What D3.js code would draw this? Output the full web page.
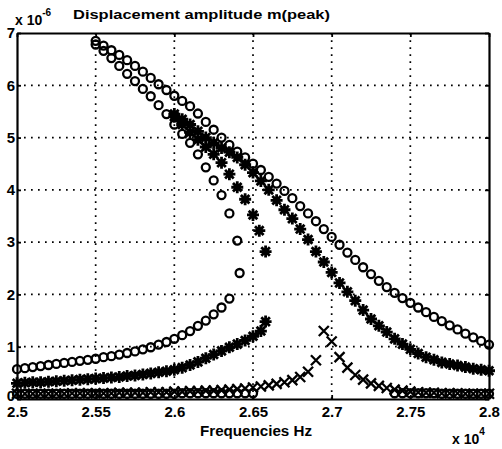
<!DOCTYPE html>
<html>
<head>
<meta charset="utf-8">
<script src="https://cdn.jsdelivr.net/npm/d3@7"></script>
<style>
  body { margin: 0; background: #fff; }
  text { font-family: "Liberation Sans", Arial, sans-serif; fill: #000; }
</style>
</head>
<body>
<svg id="chart" width="502" height="449"></svg>
<script>
// tick labels
const xTicks = [2.5, 2.55, 2.6, 2.65, 2.7, 2.75, 2.8];
const yTicks = [0, 1, 2, 3, 4, 5, 6, 7];

// circles - upper (stable) branch  [freq x1e4, amplitude x1e-6]
const circUpper = [
  [2.550, 6.85], [2.555, 6.76], [2.560, 6.67], [2.565, 6.58], [2.570, 6.48], [2.575, 6.37],
  [2.580, 6.26], [2.585, 6.14], [2.590, 6.02], [2.595, 5.91], [2.600, 5.80], [2.605, 5.70],
  [2.610, 5.60], [2.615, 5.46], [2.620, 5.30], [2.625, 5.15], [2.630, 5.00], [2.635, 4.86],
  [2.640, 4.73], [2.645, 4.62], [2.650, 4.50], [2.655, 4.38], [2.660, 4.25], [2.665, 4.12],
  [2.670, 3.98], [2.675, 3.84], [2.680, 3.69], [2.685, 3.55], [2.690, 3.40], [2.695, 3.25],
  [2.700, 3.10], [2.705, 2.95], [2.710, 2.80], [2.715, 2.66], [2.720, 2.52], [2.725, 2.39],
  [2.730, 2.26], [2.735, 2.14], [2.740, 2.03], [2.745, 1.93], [2.750, 1.84], [2.755, 1.75],
  [2.760, 1.66], [2.765, 1.57], [2.770, 1.49], [2.775, 1.41], [2.780, 1.33], [2.785, 1.25],
  [2.790, 1.18], [2.795, 1.11], [2.800, 1.04]
];
// circles - middle branch
const circMiddle = [
  [2.550, 6.78], [2.555, 6.66], [2.560, 6.52], [2.565, 6.37], [2.570, 6.22], [2.575, 6.08],
  [2.580, 5.93], [2.585, 5.79], [2.590, 5.62], [2.595, 5.45], [2.600, 5.25], [2.605, 5.07],
  [2.610, 4.90], [2.615, 4.68], [2.620, 4.43], [2.625, 4.18], [2.630, 3.90], [2.635, 3.55],
  [2.640, 3.03], [2.6415, 2.41]
];
// circles - lower branch
const circLower = [
  [2.500, 0.57], [2.505, 0.59], [2.510, 0.61], [2.515, 0.63], [2.520, 0.65], [2.525, 0.67],
  [2.530, 0.69], [2.535, 0.71], [2.540, 0.73], [2.545, 0.75], [2.550, 0.77], [2.555, 0.80],
  [2.560, 0.82], [2.565, 0.85], [2.570, 0.88], [2.575, 0.91], [2.580, 0.95], [2.585, 0.99],
  [2.590, 1.04], [2.595, 1.09], [2.600, 1.15], [2.605, 1.22], [2.610, 1.30], [2.615, 1.40],
  [2.620, 1.50], [2.625, 1.62], [2.630, 1.75], [2.635, 1.92]
];
// circles - bottom row
const circBottom = [
  [2.500, 0.10], [2.505, 0.10], [2.510, 0.10], [2.515, 0.10], [2.520, 0.10], [2.525, 0.10],
  [2.530, 0.10], [2.535, 0.10], [2.540, 0.10], [2.545, 0.10], [2.550, 0.10], [2.555, 0.10],
  [2.560, 0.10], [2.565, 0.10], [2.570, 0.10], [2.575, 0.10], [2.580, 0.10], [2.585, 0.10],
  [2.590, 0.10], [2.595, 0.10], [2.600, 0.10], [2.605, 0.11], [2.610, 0.11], [2.615, 0.11],
  [2.620, 0.11], [2.625, 0.11], [2.630, 0.11], [2.635, 0.11], [2.640, 0.11], [2.645, 0.11],
  [2.650, 0.11], [2.740, 0.11], [2.745, 0.11], [2.750, 0.11], [2.755, 0.11], [2.760, 0.11],
  [2.765, 0.11], [2.770, 0.10], [2.775, 0.10], [2.780, 0.10], [2.785, 0.10], [2.790, 0.10],
  [2.795, 0.10], [2.800, 0.10]
];

// stars - upper branch
const starUpper = [
  [2.600, 5.45], [2.605, 5.35], [2.610, 5.25], [2.615, 5.12], [2.620, 5.00], [2.625, 4.90],
  [2.630, 4.80], [2.635, 4.72], [2.640, 4.62], [2.645, 4.48], [2.650, 4.33], [2.655, 4.17],
  [2.660, 4.00], [2.665, 3.80], [2.670, 3.62], [2.675, 3.45], [2.680, 3.25], [2.685, 3.05],
  [2.690, 2.82], [2.695, 2.62], [2.700, 2.42], [2.705, 2.22], [2.710, 2.05], [2.715, 1.88],
  [2.720, 1.70], [2.725, 1.53], [2.730, 1.40], [2.735, 1.28], [2.740, 1.15], [2.745, 1.05],
  [2.750, 0.95], [2.755, 0.87], [2.760, 0.80], [2.765, 0.75], [2.770, 0.70], [2.775, 0.67],
  [2.780, 0.64], [2.785, 0.61], [2.790, 0.58], [2.795, 0.56], [2.800, 0.54]
];
// stars - middle branch
const starMiddle = [
  [2.600, 5.40], [2.605, 5.25], [2.610, 5.10], [2.615, 4.96], [2.620, 4.82], [2.625, 4.68],
  [2.630, 4.52], [2.635, 4.30], [2.640, 4.05], [2.645, 3.82], [2.650, 3.52], [2.654, 3.22],
  [2.658, 2.82]
];
// stars - lower branch
const starLower = [
  [2.500, 0.30], [2.505, 0.31], [2.510, 0.32], [2.515, 0.32], [2.520, 0.33], [2.525, 0.34],
  [2.530, 0.35], [2.535, 0.36], [2.540, 0.37], [2.545, 0.38], [2.550, 0.39], [2.555, 0.40],
  [2.560, 0.41], [2.565, 0.42], [2.570, 0.44], [2.575, 0.45], [2.580, 0.47], [2.585, 0.49],
  [2.590, 0.51], [2.595, 0.53], [2.600, 0.56], [2.605, 0.60], [2.610, 0.65], [2.615, 0.71],
  [2.620, 0.78], [2.625, 0.85], [2.630, 0.92], [2.635, 0.99], [2.640, 1.05], [2.645, 1.12],
  [2.650, 1.20], [2.655, 1.30], [2.658, 1.48]
];

// crosses - lower branch
const crossLower = [
  [2.500, 0.10], [2.505, 0.10], [2.510, 0.10], [2.515, 0.10], [2.520, 0.10], [2.525, 0.10],
  [2.530, 0.10], [2.535, 0.11], [2.540, 0.11], [2.545, 0.11], [2.550, 0.11], [2.555, 0.11],
  [2.560, 0.11], [2.565, 0.12], [2.570, 0.12], [2.575, 0.12], [2.580, 0.12], [2.585, 0.13],
  [2.590, 0.13], [2.595, 0.13], [2.600, 0.14], [2.605, 0.14], [2.610, 0.15], [2.615, 0.15],
  [2.620, 0.16], [2.625, 0.16], [2.630, 0.17], [2.635, 0.18], [2.640, 0.19], [2.645, 0.20],
  [2.650, 0.22], [2.655, 0.24], [2.660, 0.26], [2.665, 0.29], [2.670, 0.32], [2.675, 0.36],
  [2.680, 0.42], [2.685, 0.52], [2.690, 0.74], [2.695, 1.30]
];
// crosses - upper branch
const crossUpper = [
  [2.700, 1.10], [2.705, 0.80], [2.710, 0.60], [2.715, 0.46], [2.720, 0.37], [2.725, 0.30],
  [2.730, 0.25], [2.735, 0.21], [2.740, 0.18], [2.745, 0.16], [2.750, 0.14], [2.755, 0.13],
  [2.760, 0.12], [2.765, 0.12], [2.770, 0.11], [2.775, 0.11], [2.780, 0.11], [2.785, 0.10],
  [2.790, 0.10], [2.795, 0.10], [2.800, 0.10]
];

const svg = d3.select("#chart");
const margin = {left: 17, right: 13, top: 33, bottom: 50};
const W = 502, H = 449;

const x = d3.scaleLinear().domain([2.5, 2.8]).range([margin.left, W - margin.right]);
const y = d3.scaleLinear().domain([0, 7]).range([H - margin.bottom, margin.top]);

// dotted grid
const grid = svg.append("g").attr("stroke", "#000").attr("stroke-width", 1.7)
  .attr("stroke-dasharray", "1.7,5.3");
grid.selectAll(".gx").data(xTicks.slice(1, -1)).enter().append("line")
  .attr("x1", d => x(d)).attr("x2", d => x(d))
  .attr("y1", y(0)).attr("y2", y(7));
grid.selectAll(".gy").data(yTicks.slice(1, -1)).enter().append("line")
  .attr("x1", x(2.5)).attr("x2", x(2.8))
  .attr("y1", d => y(d)).attr("y2", d => y(d));

// axes (ticks inside)
const fmt = d => String(d);
const axB = svg.append("g").attr("transform", `translate(0,${y(0)})`)
  .call(d3.axisBottom(x).tickValues(xTicks).tickFormat(fmt).tickSizeInner(-4).tickSizeOuter(0).tickPadding(7));
const axL = svg.append("g").attr("transform", `translate(${x(2.5)},0)`)
  .call(d3.axisLeft(y).tickValues(yTicks).tickFormat(fmt).tickSizeInner(-4).tickSizeOuter(0).tickPadding(4));
const axT = svg.append("g").attr("transform", `translate(0,${y(7)})`)
  .call(d3.axisTop(x).tickValues(xTicks).tickFormat("").tickSizeInner(-4).tickSizeOuter(0));
const axR = svg.append("g").attr("transform", `translate(${x(2.8)},0)`)
  .call(d3.axisRight(y).tickValues(yTicks).tickFormat("").tickSizeInner(-4).tickSizeOuter(0));

[axB, axL, axT, axR].forEach(a => {
  a.select(".domain").attr("stroke", "#000").attr("stroke-width", 2.2);
  a.selectAll(".tick line").attr("stroke", "#000").attr("stroke-width", 1.8);
  a.selectAll("text").attr("font-size", 15).attr("font-weight", "bold")
    .attr("font-family", "Liberation Sans, Arial, sans-serif").attr("fill", "#000");
});
axL.selectAll("text").attr("dx", 2);
// the "0" sits just above the first x label, as in the original
axL.selectAll(".tick").filter(d => d === 0).select("text").attr("dy", "0.12em");

// markers
const plot = svg.append("g");

function drawCircles(data) {
  plot.append("g").selectAll("circle").data(data).enter().append("circle")
    .attr("cx", d => x(d[0])).attr("cy", d => y(d[1])).attr("r", 4)
    .attr("fill", "none").attr("stroke", "#000").attr("stroke-width", 2.3);
}

const starPath = "M-6,0H6M0,-6V6M-4.3,-4.3L4.3,4.3M-4.3,4.3L4.3,-4.3";
function drawStars(data) {
  plot.append("g").selectAll("path").data(data).enter().append("path")
    .attr("d", starPath)
    .attr("transform", d => `translate(${x(d[0])},${y(d[1])})`)
    .attr("fill", "none").attr("stroke", "#000").attr("stroke-width", 2.8);
}

const crossPath = "M-5,-5L5,5M-5,5L5,-5";
function drawCrosses(data) {
  plot.append("g").selectAll("path").data(data).enter().append("path")
    .attr("d", crossPath)
    .attr("transform", d => `translate(${x(d[0])},${y(d[1])})`)
    .attr("fill", "none").attr("stroke", "#000").attr("stroke-width", 2.3);
}

drawCircles(circBottom);
drawCrosses(crossLower);
drawCrosses(crossUpper);
drawStars(starLower);
drawStars(starMiddle);
drawStars(starUpper);
drawCircles(circLower);
drawCircles(circMiddle);
drawCircles(circUpper);

// texts
svg.append("text").attr("x", 73).attr("y", 19)
  .attr("font-size", 13.5).attr("font-weight", "bold")
  .attr("textLength", 257).attr("lengthAdjust", "spacingAndGlyphs")
  .text("Displacement amplitude m(peak)");

const e6 = svg.append("text").attr("x", 15).attr("y", 25)
  .attr("font-size", 14).attr("font-weight", "bold");
e6.append("tspan").text("x 10");
e6.append("tspan").attr("dy", -9).attr("font-size", 10).text("-6");

svg.append("text").attr("x", 200).attr("y", 436)
  .attr("font-size", 14).attr("font-weight", "bold")
  .attr("textLength", 112).attr("lengthAdjust", "spacingAndGlyphs")
  .text("Frequencies Hz");

const e4 = svg.append("text").attr("x", 452).attr("y", 444)
  .attr("font-size", 14).attr("font-weight", "bold");
e4.append("tspan").text("x 10");
e4.append("tspan").attr("dy", -9).attr("font-size", 10).text("4");
</script>
</body>
</html>
